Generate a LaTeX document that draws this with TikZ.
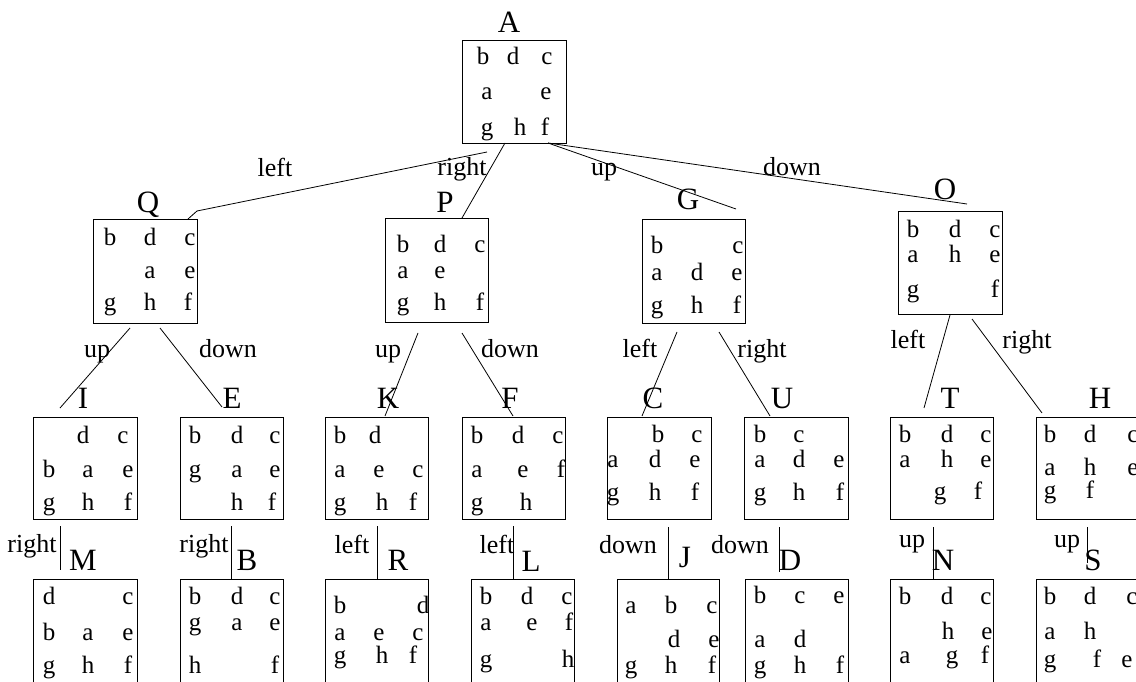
\documentclass[tikz,border=0pt]{standalone}
\usepackage{fontspec}
\setmainfont{Liberation Serif}
\tikzset{
  box/.style={draw, line width=0.9pt, inner sep=0pt, anchor=north west},
  cell/.style={anchor=base, inner sep=0pt, font=\fontsize{25}{30}\selectfont},
  lab/.style={anchor=base, inner sep=0pt, font=\fontsize{31}{36}\selectfont},
  elab/.style={anchor=base, inner sep=0pt, font=\fontsize{26}{30}\selectfont},
  edge/.style={line width=0.8pt}
}
\newcommand\statebox[5]{%
  \pgfmathsetmacro\bw{#4-#2}\pgfmathsetmacro\bh{#5-#3}%
  \node[box, minimum width=\bw pt, minimum height=\bh pt] (#1) at (#2,#3) {};}
\newcommand\cells[2]{\foreach \l/\x/\y in {#2} {\node[cell] (#1-\l) at (\x,\y) {\l};}}
\begin{document}
\begin{tikzpicture}[x=1pt,y=-1pt]
\clip (0,0) rectangle (1136,682);
\fill[white] (0,0) rectangle (1136,682);
% level 0
\statebox{A}{462}{40}{566}{143}
\node[lab] (A-lab) at (509,33) {A};
\cells{A}{b/483/65, d/513/65, c/547/65, a/487/100, e/546/100, g/487/136, h/520/136, f/545/136}
% level 1
\statebox{Q}{93}{219}{197}{323}
\node[lab] (Q-lab) at (148,213) {Q};
\cells{Q}{b/110/245, d/150/245, c/190/245, a/150/278, e/190/278, g/110/310, h/150/310, f/188/310}
\statebox{P}{385}{218}{488}{322}
\node[lab] (P-lab) at (445,212) {P};
\cells{P}{b/403/252, d/440/252, c/480/252, a/403/278, e/440/278, g/403/310, h/440/310, f/480/310}
\statebox{G}{642}{219}{745}{323}
\node[lab] (G-lab) at (688,210) {G};
\cells{G}{b/657/253, c/738/253, a/657/280, d/697/280, e/737/280, g/657/313, h/697/313, f/737/313}
\statebox{O}{898}{211}{1002}{314}
\node[lab] (O-lab) at (945,200) {O};
\cells{O}{b/913/237, d/955/237, c/995/237, a/913/262, h/955/262, e/995/262, g/913/297, f/995/297}
% level 2
\statebox{I}{33}{417}{137}{519}
\node[lab] (I-lab) at (83,408) {I};
\cells{I}{d/83/443, c/123/443, b/49/477, a/88/477, e/128/477, g/49/510, h/88/510, f/128/510}
\statebox{E}{180}{417}{283}{519}
\node[lab] (E-lab) at (232,408) {E};
\cells{E}{b/195/443, d/237/443, c/275/443, g/195/477, a/237/477, e/275/477, h/237/510, f/272/510}
\statebox{K}{325}{417}{428}{519}
\node[lab] (K-lab) at (388,408) {K};
\cells{K}{b/340/443, d/375/443, a/340/477, e/379/477, c/418/477, g/340/510, h/382/510, f/413/510}
\statebox{F}{462}{417}{565}{519}
\node[lab] (F-lab) at (510,408) {F};
\cells{F}{b/477/443, d/518/443, c/558/443, a/477/477, e/523/477, f/561/477, g/477/510, h/526/510}
\statebox{C}{607}{417}{711}{519}
\node[lab] (C-lab) at (653,408) {C};
\cells{C}{b/658/442, c/697/442, a/613/467, d/655/467, e/695/467, g/613/500, h/655/500, f/695/500}
\statebox{U}{744}{417}{848}{519}
\node[lab] (U-lab) at (782,408) {U};
\cells{U}{b/760/442, c/799/442, a/760/467, d/799/467, e/839/467, g/760/500, h/799/500, f/840/500}
\statebox{T}{890}{417}{993}{519}
\node[lab] (T-lab) at (950,408) {T};
\cells{T}{b/905/442, d/947/442, c/986/442, a/905/467, h/947/467, e/986/467, g/940/499, f/978/499}
\statebox{H}{1036}{417}{1140}{519}
\node[lab] (H-lab) at (1100,408) {H};
\cells{H}{b/1050/442, d/1090/442, c/1133/442, a/1050/475, h/1090/475, e/1133/475, g/1050/498, f/1090/498}
% level 3
\statebox{M}{33}{579}{137}{700}
\node[lab] (M-lab) at (83,570) {M};
\cells{M}{d/49/604, c/128/604, b/49/640, a/88/640, e/128/640, g/49/673, h/88/673, f/128/673}
\statebox{B}{180}{579}{283}{700}
\node[lab] (B-lab) at (247,570) {B};
\cells{B}{b/195/604, d/237/604, c/275/604, g/195/630, a/237/630, e/275/630, h/195/673, f/275/673}
\statebox{R}{325}{579}{428}{700}
\node[lab] (R-lab) at (398,570) {R};
\cells{R}{b/340/613, d/423/613, a/340/640, e/379/640, c/418/640, g/340/663, h/382/663, f/413/663}
\statebox{L}{471}{579}{574}{700}
\node[lab] (L-lab) at (531,571) {L};
\cells{L}{b/486/604, d/527/604, c/567/604, a/486/630, e/532/630, f/569/630, g/486/667, h/568/667}
\statebox{J}{617}{579}{719}{700}
\node[lab] (J-lab) at (685,567) {J};
\cells{J}{a/631/613, b/671/613, c/712/613, d/674/647, e/714/647, g/631/673, h/671/673, f/712/673}
\statebox{D}{745}{579}{848}{700}
\node[lab] (D-lab) at (790,570) {D};
\cells{D}{b/760/603, c/800/603, e/839/603, a/760/647, d/800/647, g/760/673, h/800/673, f/840/673}
\statebox{N}{890}{579}{993}{700}
\node[lab] (N-lab) at (943,570) {N};
\cells{N}{b/905/604, d/947/604, c/986/604, h/948/639, e/987/639, a/905/663, g/952/663, f/985/663}
\statebox{S}{1036}{579}{1140}{700}
\node[lab] (S-lab) at (1093,570) {S};
\cells{S}{b/1050/604, d/1090/604, c/1132/604, a/1050/639, h/1090/639, g/1050/667, f/1097/667, e/1127/667}
% connector end points
\coordinate (AQ1) at (487,152); \coordinate (AQ2) at (197,211); \coordinate (AQ3) at (188,219);
\coordinate (AP1) at (505,143); \coordinate (AP2) at (462,218);
\coordinate (AG1) at (548,143); \coordinate (AG2) at (736,209);
\coordinate (AO1) at (548,143); \coordinate (AO2) at (967,204);
\coordinate (QI1) at (130,328); \coordinate (QI2) at (60,408);
\coordinate (QE1) at (160,328); \coordinate (QE2) at (222,407);
\coordinate (PK1) at (418,333); \coordinate (PK2) at (385,416);
\coordinate (PF1) at (462,333); \coordinate (PF2) at (513,416);
\coordinate (GC1) at (677,332); \coordinate (GC2) at (642,416);
\coordinate (GU1) at (719,332); \coordinate (GU2) at (770,416);
\coordinate (OT1) at (950,315); \coordinate (OT2) at (924,408);
\coordinate (OH1) at (972,319); \coordinate (OH2) at (1042,413);
\coordinate (IM1) at (60,526); \coordinate (IM2) at (60,570);
\coordinate (EB1) at (231,526); \coordinate (EB2) at (231,579);
\coordinate (KR1) at (377,526); \coordinate (KR2) at (377,579);
\coordinate (FL1) at (513,526); \coordinate (FL2) at (513,579);
\coordinate (CJ1) at (668,527); \coordinate (CJ2) at (668,579);
\coordinate (UD1) at (779,527); \coordinate (UD2) at (779,572);
\coordinate (TN1) at (933,527); \coordinate (TN2) at (933,579);
\coordinate (HS1) at (1087,527); \coordinate (HS2) at (1087,563);
% connectors
\draw[edge] (AQ1) -- (AQ2) -- (AQ3);
\draw[edge] (AP1) -- (AP2);
\draw[edge] (AG1) -- (AG2);
\draw[edge] (AO1) -- (AO2);
\draw[edge] (QI1) -- (QI2);
\draw[edge] (QE1) -- (QE2);
\draw[edge] (PK1) -- (PK2);
\draw[edge] (PF1) -- (PF2);
\draw[edge] (GC1) -- (GC2);
\draw[edge] (GU1) -- (GU2);
\draw[edge] (OT1) -- (OT2);
\draw[edge] (OH1) -- (OH2);
\draw[edge] (IM1) -- (IM2);
\draw[edge] (EB1) -- (EB2);
\draw[edge] (KR1) -- (KR2);
\draw[edge] (FL1) -- (FL2);
\draw[edge] (CJ1) -- (CJ2);
\draw[edge] (UD1) -- (UD2);
\draw[edge] (TN1) -- (TN2);
\draw[edge] (HS1) -- (HS2);
% edge labels
\node[elab] (lAQ) at (275,177) {left};
\node[elab] (lAP) at (462,176) {right};
\node[elab] (lAG) at (604,176) {up};
\node[elab] (lAO) at (792,176) {down};
\node[elab] (lQI) at (97,357) {up};
\node[elab] (lQE) at (228,357) {down};
\node[elab] (lPK) at (388,357) {up};
\node[elab] (lPF) at (510,357) {down};
\node[elab] (lGC) at (640,357) {left};
\node[elab] (lGU) at (762,357) {right};
\node[elab] (lOT) at (908,348) {left};
\node[elab] (lOH) at (1027,348) {right};
\node[elab] (lIM) at (32,552) {right};
\node[elab] (lEB) at (204,552) {right};
\node[elab] (lKR) at (352,553) {left};
\node[elab] (lFL) at (497,553) {left};
\node[elab] (lCJ) at (628,553) {down};
\node[elab] (lUD) at (740,553) {down};
\node[elab] (lTN) at (912,547) {up};
\node[elab] (lHS) at (1067,547) {up};
\end{tikzpicture}
\end{document}
